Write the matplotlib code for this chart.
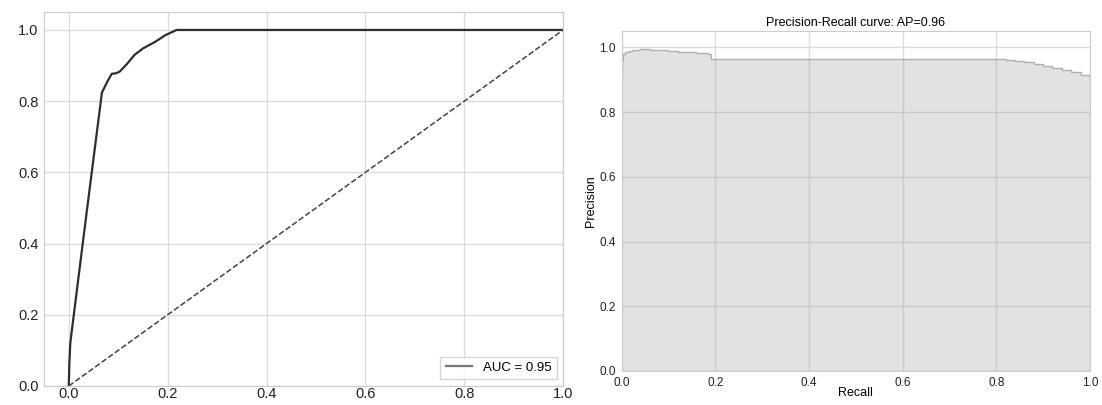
import matplotlib
matplotlib.use("Agg")
import matplotlib.pyplot as plt

# ROC curve points
fpr = [0.0, 0.001, 0.003, 0.006, 0.03, 0.04, 0.067, 0.078, 0.087, 0.095, 0.103,
       0.118, 0.133, 0.15, 0.174, 0.195, 0.218, 0.3, 0.5, 0.8, 1.0]
tpr = [0.0, 0.06, 0.12, 0.154, 0.42, 0.53, 0.824, 0.855, 0.877, 0.878, 0.883,
       0.905, 0.93, 0.948, 0.966, 0.985, 1.0, 1.0, 1.0, 1.0, 1.0]
auc_label = "AUC = 0.95"

# precision-recall points
recall = [0.0, 0.002, 0.004, 0.008, 0.015, 0.025, 0.04, 0.06, 0.08, 0.1, 0.12,
          0.14, 0.16, 0.185, 0.19, 0.5, 0.78, 0.8, 0.82, 0.84, 0.86, 0.88, 0.9,
          0.92, 0.94, 0.96, 0.98, 1.0]
precision = [0.92, 0.96, 0.98, 0.986, 0.99, 0.993, 0.994, 0.993, 0.991, 0.989,
             0.987, 0.985, 0.982, 0.978, 0.965, 0.965, 0.964, 0.963, 0.961, 0.958,
             0.954, 0.949, 0.943, 0.937, 0.931, 0.924, 0.916, 0.905]
pr_title = "Precision-Recall curve: AP=0.96"

plt.rcParams['font.family'] = ['Liberation Sans', 'DejaVu Sans']
grid_col = '#dcdcdc'
spine_col = '#cccccc'

fig = plt.figure(figsize=(11.02, 4.05), dpi=100)

# left panel: ROC
ax1 = fig.add_axes([0.040, 0.047, 0.471, 0.923])
ax1.plot(fpr, tpr, color='#2e2e2e', lw=1.6, label=auc_label)
ax1.plot([0, 1], [0, 1], color='#444444', lw=1.1, ls='--')
ax1.set_xlim(-0.05, 1.0)
ax1.set_ylim(0, 1.05)
ax1.set_xticks([0, 0.2, 0.4, 0.6, 0.8, 1.0])
ax1.set_yticks([0, 0.2, 0.4, 0.6, 0.8, 1.0])
leg = ax1.legend(loc='lower right', fontsize=9.5, frameon=True, fancybox=False)
leg.get_frame().set_edgecolor('#cccccc')
leg.get_lines()[0].set_color('#777777')

# right panel: precision-recall
ax2 = fig.add_axes([0.564, 0.084, 0.425, 0.839])
ax2.step(recall, precision, color='#b0b0b0', lw=1.0, where='post')
ax2.fill_between(recall, precision, step='post', color='#9a9a9a', alpha=0.28, lw=0)
ax2.set_xlim(0, 1.0)
ax2.set_ylim(0, 1.05)
ax2.set_xticks([0, 0.2, 0.4, 0.6, 0.8, 1.0])
ax2.set_yticks([0, 0.2, 0.4, 0.6, 0.8, 1.0])
ax2.set_xlabel("Recall", fontsize=9, labelpad=-1)
ax2.set_ylabel("Precision", fontsize=9, labelpad=2)
ax2.set_title(pr_title, fontsize=9, pad=4)

for ax, fs in ((ax1, 10.5), (ax2, 8.5)):
    ax.set_facecolor('white')
    ax.grid(True, color=grid_col, lw=1.0)
    ax.set_axisbelow(True)
    for s in ax.spines.values():
        s.set_color(spine_col)
    ax.tick_params(length=0, labelsize=fs, colors='#222222', pad=4)
    ax.set_xticklabels(["0.0", "0.2", "0.4", "0.6", "0.8", "1.0"])
    ax.set_yticklabels(["0.0", "0.2", "0.4", "0.6", "0.8", "1.0"])

ax1.tick_params(axis='x', pad=1)
ax2.tick_params(axis='x', pad=4)

fig.savefig("out.png", dpi=100, facecolor='white')
